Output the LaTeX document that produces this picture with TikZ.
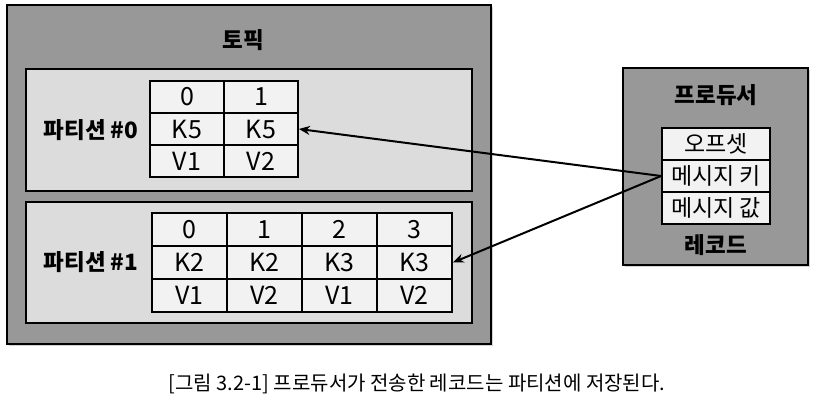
\documentclass[tikz,border=0pt]{standalone}
\usepackage{fontspec}
\setmainfont{Noto Sans CJK KR}
\usetikzlibrary{arrows.meta,shadows}
\definecolor{boxgray}{RGB}{152,152,152}
\definecolor{partgray}{RGB}{220,220,220}
\definecolor{cellgray}{RGB}{242,242,242}

\begin{document}
\begin{tikzpicture}[x=1pt,y=-1pt,every node/.style={align=center,font=\fontsize{23}{27}\selectfont},
graybox/.style={draw,line width=1.8pt,fill=boxgray,inner sep=0pt,drop shadow={opacity=0.35,shadow xshift=2pt,shadow yshift=-2pt}},
partbox/.style={draw,line width=1.8pt,fill=partgray,inner sep=0pt},
cell/.style={draw,line width=1.8pt,fill=cellgray,inner sep=0pt,minimum height=32pt},
latin/.style={font=\fontsize{25}{29}\selectfont},
heading/.style={font=\fontsize{22.5}{27}\selectfont\bfseries},
sendarrow/.style={line width=2pt,-{Stealth[length=11pt,width=9pt]}}
]
\useasboundingbox (0,0) rectangle (822,404);

\node[graybox,minimum width=484pt,minimum height=339pt] (topic) at (249,174.5) {};
\node[heading] (topictitle) at (243,40) {토픽};

\node[partbox,minimum width=446pt,minimum height=122pt] (part0) at (249,130) {};
\node[partbox,minimum width=446pt,minimum height=121pt] (part1) at (249,262.5) {};
\node[heading] (part0name) at (91,130) {파티션 \#0};
\node[heading] (part1name) at (91,262) {파티션 \#1};

% partition 0
\foreach \k/\v [count=\c from 0] in {K5/V1,K5/V2}{
\node[cell,latin,minimum width=74pt] (t0-\c-n) at (187+74*\c,97) {\c};
\node[cell,latin,minimum width=74pt] (t0-\c-k) at (187+74*\c,129) {\k};
\node[cell,latin,minimum width=74pt] (t0-\c-v) at (187+74*\c,161) {\v};
} % <- end partition 0

% partition 1
\foreach \k/\v [count=\c from 0] in {K2/V1,K2/V2,K3/V1,K3/V2}{
\node[cell,latin,minimum width=75pt,minimum height=33pt] (t1-\c-n) at (189.5+75*\c,229.5) {\c};
\node[cell,latin,minimum width=75pt,minimum height=33pt] (t1-\c-k) at (189.5+75*\c,262.5) {\k};
\node[cell,latin,minimum width=75pt,minimum height=33pt] (t1-\c-v) at (189.5+75*\c,295.5) {\v};
} % <- end partition 1

% producer
\node[graybox,minimum width=185pt,minimum height=197pt] (producer) at (715.5,166.5) {};
\node[heading] (producertitle) at (716,95) {프로듀서};
\node[cell,minimum width=108pt] (rec0) at (716,144) {오프셋};
\node[cell,minimum width=108pt] (rec1) at (716,176) {메시지 키};
\node[cell,minimum width=108pt] (rec2) at (716,208) {메시지 값};
\node[heading] (recordname) at (716,245) {레코드};

\draw[sendarrow] (rec1.west) -- (t0-1-k.east);
\draw[sendarrow] (rec1.west) -- (t1-3-k.east);

\node[font=\fontsize{20}{24}\selectfont] (caption) at (417,384) {[그림 3.2-1] 프로듀서가 전송한 레코드는 파티션에 저장된다.};
\end{tikzpicture}
\end{document}
